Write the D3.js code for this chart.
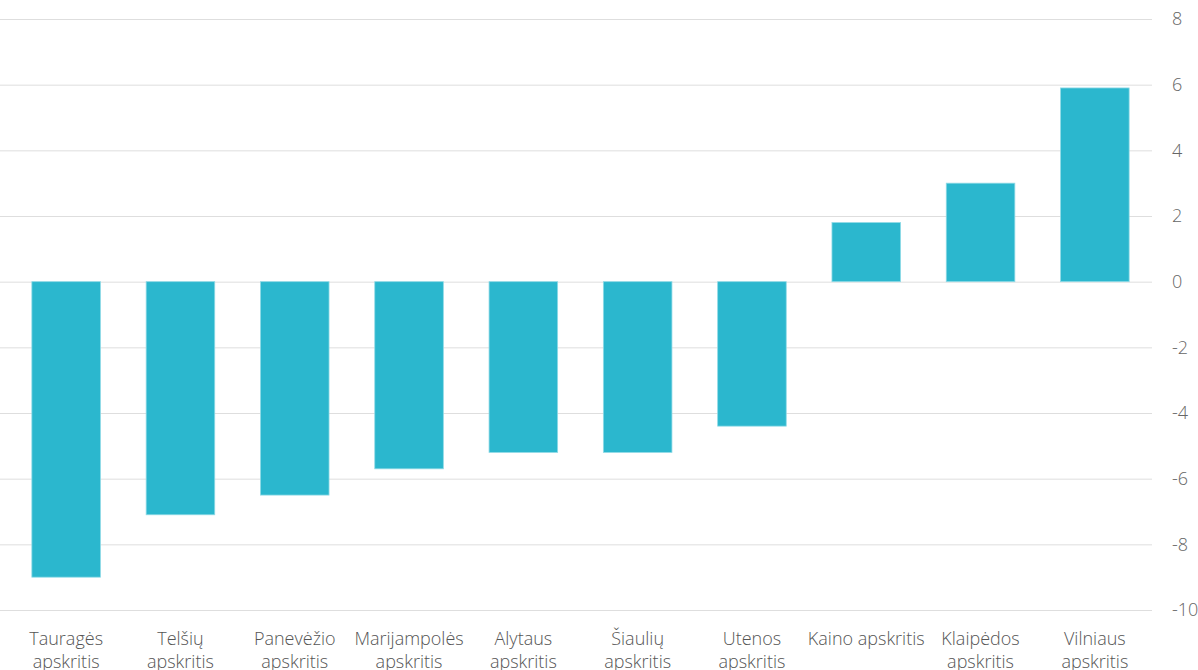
<!DOCTYPE html>
<html>
<head>
<meta charset="utf-8">
<script src="https://cdn.jsdelivr.net/npm/d3@7"></script>
<style>
  body { margin: 0; background: #fff; }
  svg { display: block; font-family: "Open Sans", sans-serif; font-weight: 300; }
</style>
</head>
<body>
<div id="chart"></div>
<script>
const categories = ["Tauragės apskritis", "Telšių apskritis", "Panevėžio apskritis", "Marijampolės apskritis", "Alytaus apskritis", "Šiaulių apskritis", "Utenos apskritis", "Kaino apskritis", "Klaipėdos apskritis", "Vilniaus apskritis"];
const labelLines = [["Tauragės", "apskritis"], ["Telšių", "apskritis"], ["Panevėžio", "apskritis"], ["Marijampolės", "apskritis"], ["Alytaus", "apskritis"], ["Šiaulių", "apskritis"], ["Utenos", "apskritis"], ["Kaino apskritis"], ["Klaipėdos", "apskritis"], ["Vilniaus", "apskritis"]];
const values = [-9.0, -7.1, -6.5, -5.7, -5.2, -5.2, -4.4, 1.8, 3.0, 5.9];
const yTicks = [-10, -8, -6, -4, -2, 0, 2, 4, 6, 8];

const width = 1198, height = 670;
const plotLeft = 9, plotRight = 1152, plotTop = 19, plotBottom = 610;

const svg = d3.select("#chart").append("svg")
  .attr("width", width)
  .attr("height", height);

const x = d3.scaleBand().domain(categories).range([plotLeft, plotRight]).paddingInner(0.4).paddingOuter(0.2);
const y = d3.scaleLinear().domain([-10, 8]).range([plotBottom, plotTop]);

// gridlines + right axis labels
const yAxis = d3.axisRight(y).tickValues(yTicks).tickFormat(d => String(d)).tickSize(-plotRight).tickPadding(0);
const gy = svg.append("g").attr("transform", `translate(${plotRight},0)`).call(yAxis);
gy.select(".domain").remove();
gy.selectAll(".tick line").attr("stroke", "#dedede").attr("stroke-width", 1);
gy.selectAll(".tick text")
  .attr("x", 20)
  .attr("fill", "#666")
  .attr("font-size", 18)
  .attr("text-anchor", "start")
  .style("font-family", "'Open Sans', sans-serif")
  .style("font-weight", 300);

// bars
svg.append("g").selectAll("rect")
  .data(values)
  .join("rect")
  .attr("x", (d, i) => x(categories[i]))
  .attr("width", x.bandwidth())
  .attr("y", d => y(Math.max(0, d)))
  .attr("height", d => Math.abs(y(d) - y(0)))
  .attr("fill", "#2bb7ce")
  .attr("stroke", "#8fdae6")
  .attr("stroke-width", 0.8);

// category labels
svg.append("g").selectAll("text")
  .data(categories)
  .join("text")
  .attr("x", d => x(d) + x.bandwidth() / 2)
  .attr("y", 645)
  .attr("text-anchor", "middle")
  .attr("fill", "#555")
  .attr("font-size", 18)
  .each(function(d, i) {
    const cx = x(d) + x.bandwidth() / 2;
    d3.select(this).selectAll("tspan")
      .data(labelLines[i])
      .join("tspan")
      .attr("x", cx)
      .attr("dy", (w, k) => k === 0 ? 0 : 23)
      .text(w => w);
  });
</script>
</body>
</html>
